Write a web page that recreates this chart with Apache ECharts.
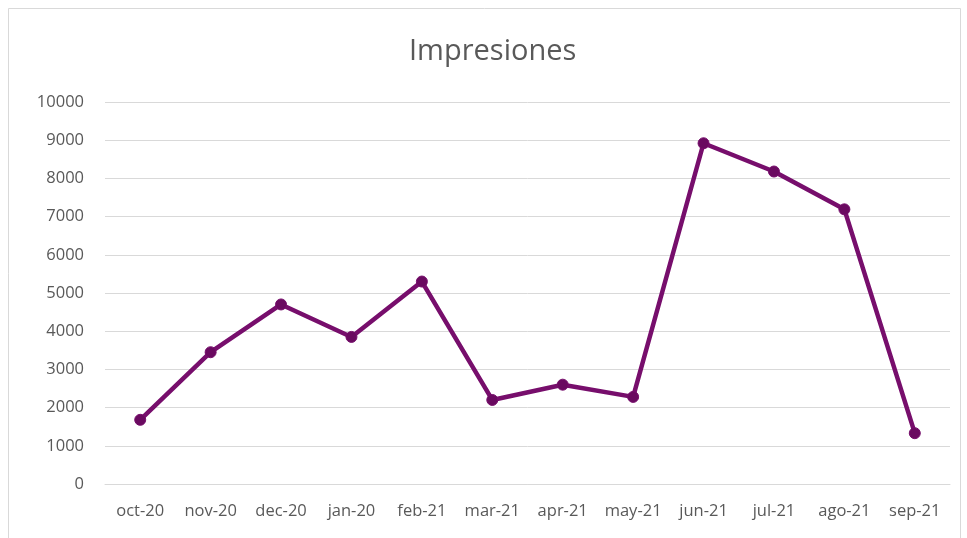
<!DOCTYPE html>
<html>
<head>
<meta charset="utf-8">
<script src="https://cdn.jsdelivr.net/npm/echarts@6/dist/echarts.min.js"></script>
<style>html,body{margin:0;padding:0;background:#fff;}#c{width:967px;height:538px;}</style>
</head>
<body>
<div id="c"></div>
<script>
const categories = ['oct-20','nov-20','dec-20','jan-20','feb-21','mar-21','apr-21','may-21','jun-21','jul-21','ago-21','sep-21'];
const impresiones = [1680, 3450, 4700, 3850, 5300, 2200, 2600, 2280, 8920, 8180, 7190, 1330];
const yTicks = {min: 0, max: 10000, interval: 1000};
const titleText = 'Impresiones';

const chart = echarts.init(document.getElementById('c'));
chart.setOption({
  backgroundColor: '#ffffff',
  animation: false,
  graphic: [{
    type: 'rect', shape: {x: 8.5, y: 8.5, width: 952, height: 540},
    style: {fill: 'none', stroke: '#d9d9d9', lineWidth: 1}, silent: true
  }],
  title: {
    text: titleText, left: 404, top: 32, padding: 5,
    textStyle: {fontFamily: 'Open Sans', fontSize: 29, fontWeight: 'normal', color: '#595959'}
  },
  grid: {left: 105, right: 17, top: 102, bottom: 54, containLabel: false},
  xAxis: {
    type: 'category', data: categories, boundaryGap: true,
    axisLine: {lineStyle: {color: '#d9d9d9', width: 1}},
    axisTick: {show: false},
    axisLabel: {color: '#595959', fontFamily: 'Open Sans', fontSize: 16.5, margin: 19, interval: 0}
  },
  yAxis: {
    type: 'value', min: yTicks.min, max: yTicks.max, interval: yTicks.interval,
    axisLine: {show: false}, axisTick: {show: false},
    splitLine: {lineStyle: {color: '#d9d9d9', width: 1}},
    axisLabel: {color: '#595959', fontFamily: 'Open Sans', fontSize: 16.5, margin: 21,
      formatter: v => String(v)}
  },
  series: [{
    type: 'line', data: impresiones, name: titleText,
    lineStyle: {color: '#770e6c', width: 4.5},
    itemStyle: {color: '#6a0a60', borderColor: '#770e6c', borderWidth: 1},
    symbol: 'circle', symbolSize: 11
  }]
});
</script>
</body>
</html>
